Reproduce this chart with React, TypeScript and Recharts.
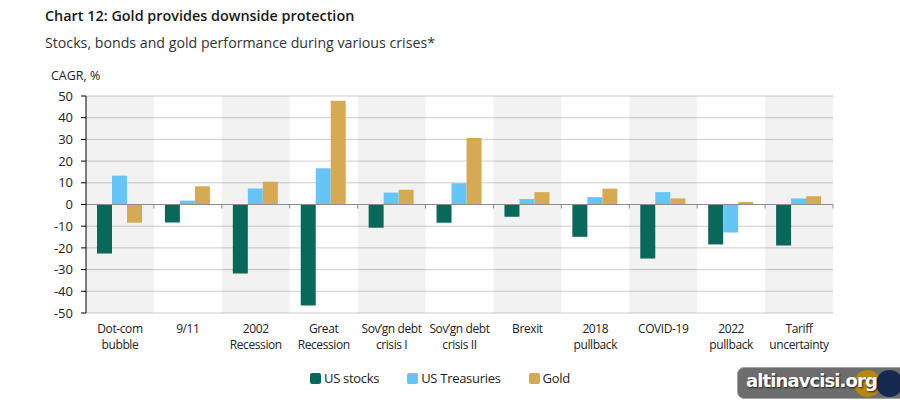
import { Bar, BarChart, CartesianGrid, ReferenceArea, ReferenceLine, XAxis, YAxis } from "recharts";

// crisis periods, "\n" splits the axis label in two lines
const crises = [
    "Dot-com\nbubble",
    "9/11",
    "2002\nRecession",
    "Great\nRecession",
    "Sov\u2019gn debt\ncrisis I",
    "Sov\u2019gn debt\ncrisis II",
    "Brexit",
    "2018\npullback",
    "COVID-19",
    "2022\npullback",
    "Tariff\nuncertainty",
];

// CAGR, %
const usStocks = [-22.6, -8.3, -31.8, -46.5, -10.7, -8.4, -5.7, -14.9, -24.9, -18.4, -18.9];
const usTreasuries = [13.3, 1.8, 7.4, 16.7, 5.5, 9.8, 2.5, 3.4, 5.7, -12.9, 2.8];
const gold = [-8.4, 8.4, 10.5, 47.8, 6.8, 30.6, 5.7, 7.3, 2.8, 1.2, 3.8];

const yTicks = [50, 40, 30, 20, 10, 0, -10, -20, -30, -40, -50];

const GREEN = "#08695a";
const BLUE = "#66c5f7";
const GOLD = "#d5aa52";

const data = crises.map((name, i) => ({
    name,
    stocks: usStocks[i],
    treasuries: usTreasuries[i],
    gold: gold[i],
}));

const FONT = "'Open Sans', 'Noto Sans', sans-serif";

function CrisisTick({ x, y, payload }: any) {
    const lines = String(payload.value).split("\n");
    return (
        <text x={x} y={y} textAnchor="middle" fontFamily={FONT} fontSize={12} letterSpacing={-0.4} fill="#222">
            {lines.map((l, i) => (
                <tspan key={i} x={x} dy={i === 0 ? 12 : 16}>
                    {l}
                </tspan>
            ))}
        </text>
    );
}

// zero line with small tick marks on the category boundaries
function ZeroLine({ x1, x2, y1 }: any) {
    const step = (x2 - x1) / crises.length;
    return (
        <g>
            <line x1={x1} x2={x2} y1={y1} y2={y1} stroke="#8c8c8c" strokeWidth={1} />
            {crises.map((_, i) => (
                <line
                    key={i}
                    x1={x1 + step * (i + 1)}
                    x2={x1 + step * (i + 1)}
                    y1={y1}
                    y2={y1 + 4}
                    stroke="#8c8c8c"
                />
            ))}
        </g>
    );
}

const legendItems = [
    { label: "US stocks", color: GREEN },
    { label: "US Treasuries", color: BLUE },
    { label: "Gold", color: GOLD },
];

export default function App() {
    return (
        <div style={{ position: "absolute", left: 0, top: 0, width: 900, height: 400, background: "#fff", fontFamily: FONT, overflow: "hidden" }}>
            <div style={{ position: "absolute", left: 45, top: 6, fontSize: 14.4, fontWeight: 600, color: "#1a1a1a" }}>
                Chart 12: Gold provides downside protection
            </div>
            <div style={{ position: "absolute", left: 45, top: 33, fontSize: 14.2, color: "#333" }}>
                Stocks, bonds and gold performance during various crises*
            </div>
            <div style={{ position: "absolute", left: 51, top: 67, fontSize: 12.5, color: "#222" }}>CAGR, %</div>

            <BarChart
                width={900}
                height={400}
                data={data}
                margin={{ top: 96, right: 67, bottom: 47, left: 0 }}
                barGap={0}
                barSize={15}
                style={{ position: "absolute", left: 0, top: 0 }}
            >
                <CartesianGrid horizontal vertical={false} stroke="#cdcdcd" />
                {crises.map((c, i) =>
                    i % 2 === 0 ? (
                        <ReferenceArea key={c} x1={c} x2={c} fill="#000" fillOpacity={0.05} stroke="none" />
                    ) : null
                )}
                <XAxis
                    dataKey="name"
                    interval={0}
                    axisLine={false}
                    tickLine={false}
                    height={40}
                    tick={<CrisisTick />}
                />
                <YAxis
                    domain={[-50, 50]}
                    ticks={yTicks}
                    interval={0}
                    width={86}
                    axisLine={{ stroke: "#000" }}
                    tickLine={{ stroke: "#000" }}
                    tickSize={5}
                    tickMargin={8}
                    tick={{ fill: "#222", fontSize: 13, fontFamily: FONT }}
                />
                <Bar dataKey="stocks" name="US stocks" fill={GREEN} isAnimationActive={false} />
                <Bar dataKey="treasuries" name="US Treasuries" fill={BLUE} isAnimationActive={false} />
                <Bar dataKey="gold" name="Gold" fill={GOLD} isAnimationActive={false} />
                <ReferenceLine y={0} shape={<ZeroLine />} />
            </BarChart>

            <div
                style={{
                    position: "absolute",
                    left: 310,
                    top: 369,
                    display: "flex",
                    gap: 28,
                    fontSize: 13,
                    letterSpacing: -0.3,
                    color: "#222",
                }}
            >
                {legendItems.map((it) => (
                    <div key={it.label} style={{ display: "flex", alignItems: "center", gap: 3 }}>
                        <span style={{ width: 11, height: 11, background: it.color, borderRadius: 2, display: "inline-block" }} />
                        <span>{it.label}</span>
                    </div>
                ))}
            </div>

            {/* site badge */}
            <div
                style={{
                    position: "absolute",
                    left: 737,
                    top: 367,
                    width: 180,
                    height: 30,
                    background: "#6d6d6d",
                    border: "1px solid #a5a5a5",
                    borderRadius: 7,
                    overflow: "hidden",
                }}
            >
                <div style={{ position: "absolute", left: 116, top: 2, width: 27, height: 27, borderRadius: "50%", background: "#b8860b" }} />
                <div style={{ position: "absolute", left: 138, top: 2, width: 27, height: 27, borderRadius: "50%", background: "#15284f" }} />
                <div
                    style={{
                        position: "absolute",
                        left: 8,
                        top: 2,
                        fontFamily: "'DejaVu Sans', sans-serif",
                        fontWeight: 700,
                        fontSize: 18,
                        color: "#fff",
                        textShadow: "1px 1px 2px #222",
                        letterSpacing: -0.9,
                    }}
                >
                    altinavcisi.org
                </div>
            </div>
        </div>
    );
}
